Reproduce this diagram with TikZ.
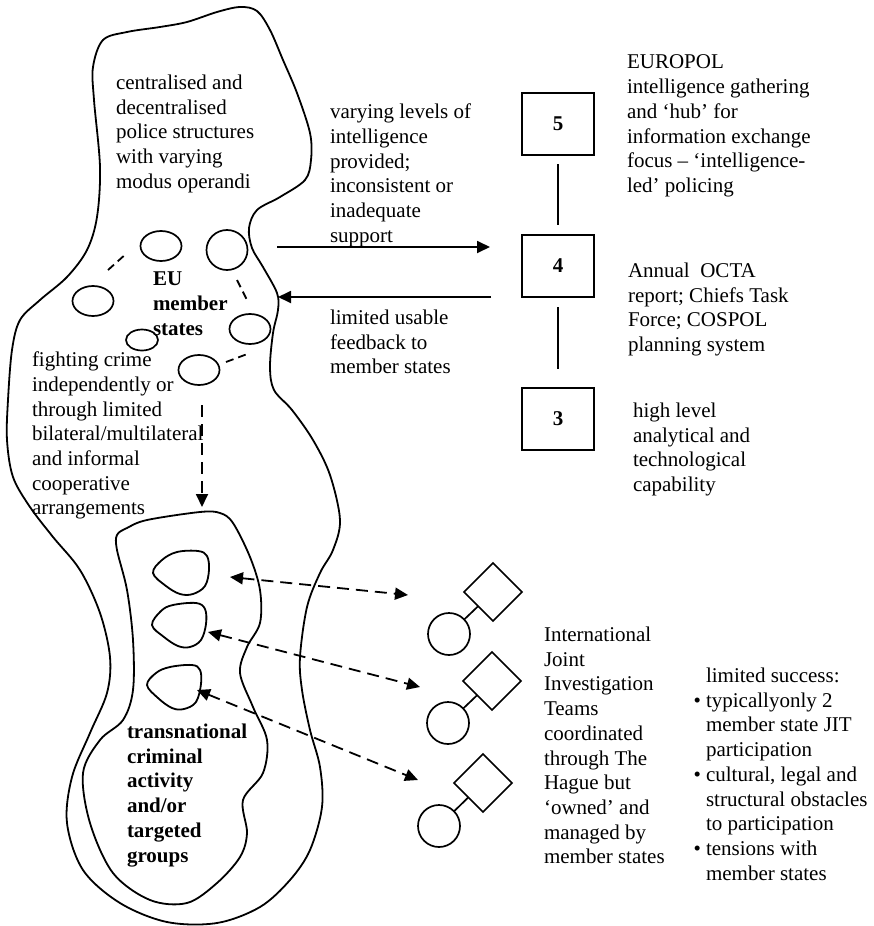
\documentclass[tikz,border=0pt]{standalone}
\usepackage{fontspec}
\setmainfont{Liberation Serif}
\usetikzlibrary{shapes.geometric,arrows.meta}
\begin{document}
\begin{tikzpicture}[x=1pt,y=-1pt,
  every node/.style={inner sep=0pt, outer sep=0pt},
  txt/.style={anchor=north west, align=left, font=\fontsize{21}{24.7}\selectfont},
  btxt/.style={anchor=north west, align=left, font=\fontsize{21}{24.7}\selectfont\bfseries},
  outline/.style={line width=1.8pt, line join=round},
  lvlbox/.style={draw, line width=1.9pt, minimum width=72pt, minimum height=62pt,
    font=\fontsize{21}{24}\selectfont\bfseries},
  ms/.style={draw, line width=1.7pt, ellipse, minimum width=41pt, minimum height=30pt},
  jitsq/.style={draw, line width=1.7pt, diamond, aspect=1, minimum size=58pt},
  jitci/.style={draw, line width=1.7pt, circle, minimum size=42pt},
  tip/.style={-{Triangle[length=13pt,width=12pt]}},
  dtip/.style={{Triangle[length=13pt,width=12pt]}-{Triangle[length=13pt,width=12pt]}},
  dashline/.style={line width=1.8pt, dash pattern=on 12pt off 7pt},
  solidline/.style={line width=1.8pt}
]
\useasboundingbox (0,0) rectangle (874,926);

% EU member states region
\draw[outline] plot[smooth cycle, tension=0.55] coordinates {
  (103,40) (127,32) (160,27) (187,22) (217,12) (240,7) (257,11) (270,30) (283,60)
  (297,93) (310,133) (311,160) (305,180) (280,197) (257,210) (249,228) (252,248)
  (263,267) (277,293) (278,310) (273,333) (270,367) (274,390) (292,410) (313,440)
  (330,475) (340,520) (333,550) (320,573) (307,607) (300,657) (302,690) (310,730)
  (320,767) (322,807) (310,850) (290,880) (260,907) (217,923) (167,922) (120,903)
  (83,870) (67,823) (72,777) (90,733) (107,693) (110,657) (100,613) (80,570)
  (53,537) (30,507) (13,477) (7,440) (8,400) (12,350) (20,320) (40,300) (67,277)
  (87,250) (97,217) (100,167) (94,100) (93,67)};

% transnational criminal activity region
\draw[outline] plot[smooth cycle, tension=0.55] coordinates {
  (117,535) (127,528) (147,520) (200,512) (220,513) (233,523) (250,557) (260,590)
  (260,623) (247,647) (240,673) (253,707) (267,740) (263,773) (243,800) (247,833)
  (240,857) (217,883) (187,903) (150,900) (113,873) (90,823) (83,773) (100,740)
  (123,720) (133,690) (133,640) (127,590) (117,550)};

% targeted groups
\draw[outline] plot[smooth cycle, tension=0.6] coordinates {
  (153,573) (162,560) (177,552) (198,551) (207,556) (209,570) (205,586) (193,594) (180,594) (166,586)};
\draw[outline] plot[smooth cycle, tension=0.6] coordinates {
  (152,625) (161,611) (173,605) (196,603) (205,609) (206,624) (201,640) (190,647) (178,646) (164,637)};
\draw[outline] plot[smooth cycle, tension=0.6] coordinates {
  (147,685) (156,673) (170,667) (192,665) (200,670) (201,684) (196,702) (184,709) (172,708) (158,698)};

% member states
\node[ms] (e1) at (161,246) {};
\node[ms, minimum height=40pt] (e2) at (227,250) {};
\node[ms] (e3) at (93,301) {};
\node[ms] (e4) at (250,329) {};
\node[ms, minimum width=32pt, minimum height=21pt] (e5) at (142,340) {};
\node[ms] (e6) at (199,370) {};

\coordinate (d1a) at (108,270); \coordinate (d1b) at (127,253);
\coordinate (d2a) at (237,280); \coordinate (d2b) at (247,300);
\coordinate (d3a) at (226,362); \coordinate (d3b) at (250,353);
\draw[solidline, dash pattern=on 8pt off 5pt] (d1a) -- (d1b);
\draw[solidline, dash pattern=on 8pt off 5pt] (d2a) -- (d2b);
\draw[solidline, dash pattern=on 8pt off 5pt] (d3a) -- (d3b);

% intelligence levels
\node[lvlbox] (b5) at (558,124) {5};
\node[lvlbox] (b4) at (558,266) {4};
\node[lvlbox] (b3) at (558,419) {3};
\draw[solidline, shorten <=9pt, shorten >=10pt] (b5) -- (b4);
\draw[solidline, shorten <=10pt, shorten >=19pt] (b4) -- (b3);

% exchange between member states and EUROPOL
\coordinate (msout) at (277,247);
\coordinate (msin) at (278,297);
\draw[solidline, tip, shorten >=32pt] (msout) -- (msout -| b4.west);
\draw[solidline, tip, shorten <=31pt] (b4.south west) -- (msin);

% fighting crime
\coordinate (fcstart) at (202,405);
\coordinate (tcatop) at (202,507);
\draw[dashline, tip] (fcstart) -- (tcatop);

% joint investigation teams
\node[jitsq] (q1) at (493,592) {};
\node[jitci] (c1) at (449,634) {};
\node[jitsq] (q2) at (492,681) {};
\node[jitci] (c2) at (448,723) {};
\node[jitsq] (q3) at (483,783) {};
\node[jitci] (c3) at (439,826) {};
\draw[line width=1.7pt] (c1) -- (q1);
\draw[line width=1.7pt] (c2) -- (q2);
\draw[line width=1.7pt] (c3) -- (q3);

\coordinate (g1) at (230,577); \coordinate (j1) at (408,595);
\coordinate (g2) at (208,632); \coordinate (j2) at (420,687);
\coordinate (g3) at (197,690); \coordinate (j3) at (418,780);
\draw[dashline, dtip] (g1) -- (j1);
\draw[dashline, dtip] (g2) -- (j2);
\draw[dashline, dtip] (g3) -- (j3);

% labels
\node[txt] (tpol) at (116,75) {centralised and\\decentralised\\police structures\\with varying\\modus operandi};
\node[btxt] (tems) at (153,272) {EU\\member\\states};
\node[txt] (tfight) at (32,352) {fighting crime\\independently or\\through limited\\bilateral/multilateral\\and informal\\cooperative\\arrangements};
\node[btxt] (ttca) at (127,724) {transnational\\criminal\\activity\\and/or\\targeted\\groups};
\node[txt] (tvary) at (330,104) {varying levels of\\intelligence\\provided;\\inconsistent or\\inadequate\\support};
\node[txt] (tfeed) at (330,310) {limited usable\\feedback to\\member states};
\node[txt] (teuro) at (627,55) {EUROPOL\\intelligence gathering\\and ‘hub’ for\\information exchange\\focus – ‘intelligence-\\led’ policing};
\node[txt] (tocta) at (628,263) {Annual\ \ OCTA\\report; Chiefs Task\\Force; COSPOL\\planning system};
\node[txt] (thigh) at (633,403) {high level\\analytical and\\technological\\capability};
\node[txt] (tjit) at (544,627) {International\\Joint\\Investigation\\Teams\\coordinated\\through The\\Hague but\\‘owned’ and\\managed by\\member states};
\node[txt] (tlim) at (706,668) {limited success:\\
  \llap{\textbullet\hspace{5pt}}typicallyonly 2\\member state JIT\\participation\\
  \llap{\textbullet\hspace{5pt}}cultural, legal and\\structural obstacles\\to participation\\
  \llap{\textbullet\hspace{5pt}}tensions with\\member states};
\end{tikzpicture}
\end{document}
